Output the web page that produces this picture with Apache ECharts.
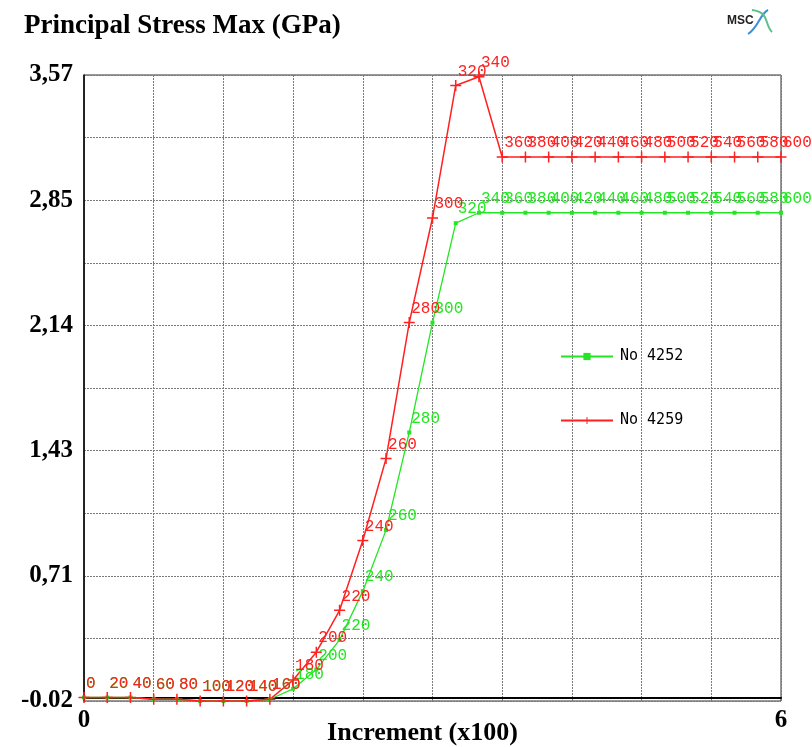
<!DOCTYPE html>
<html>
<head>
<meta charset="utf-8">
<script src="https://cdn.jsdelivr.net/npm/echarts@6/dist/echarts.min.js"></script>
<style>
  html, body { margin: 0; padding: 0; background: #fff; }
  #chart { width: 812px; height: 747px; }
</style>
</head>
<body>
<div id="chart"></div>
<script>
// increments (x100 on the axis)
const increments = [0, 20, 40, 60, 80, 100, 120, 140, 160, 180, 200, 220, 240, 260, 280, 300,
  320, 340, 360, 380, 400, 420, 440, 460, 480, 500, 520, 540, 560, 580, 600]

// No 4252 (green)
const no4252 = [0.0, 0.0, 0.0, -0.01, -0.01, -0.02, -0.02, -0.02, -0.01, 0.05, 0.16, 0.33, 0.61, 0.96, 1.52, 2.15,
  2.72, 2.78, 2.78, 2.78, 2.78, 2.78, 2.78, 2.78, 2.78, 2.78, 2.78, 2.78, 2.78, 2.78, 2.78]

// No 4259 (red)
const no4259 = [0.0, 0.0, 0.0, -0.01, -0.01, -0.02, -0.02, -0.02, -0.01, 0.10, 0.26, 0.50, 0.90, 1.37, 2.15, 2.75,
  3.51, 3.56, 3.10, 3.10, 3.10, 3.10, 3.10, 3.10, 3.10, 3.10, 3.10, 3.10, 3.10, 3.10, 3.10]

const yTickLabels = ['-0.02', '0,71', '1,43', '2,14', '2,85', '3,57']
const xTickLabels = { 0: '0', 6: '6' }

const serif = 'Liberation Serif'
const mono = 'Liberation Mono'

const chart = echarts.init(document.getElementById('chart'))

const pointLabel = (color, dy) => ({
  show: true,
  position: 'top',
  distance: 0,
  align: 'left',
  verticalAlign: 'middle',
  offset: [2, dy],
  color: color,
  fontFamily: mono,
  fontSize: 16,
  formatter: p => String(increments[p.dataIndex])
})

const option = {
  animation: false,
  backgroundColor: '#fff',
  title: {
    text: 'Principal Stress Max (GPa)',
    left: 19,
    top: 8,
    textStyle: { fontFamily: serif, fontWeight: 'bold', fontSize: 27, color: '#000' }
  },
  legend: {
    orient: 'vertical',
    left: 555,
    top: 344,
    itemWidth: 52,
    itemHeight: 9,
    itemGap: 49,
    textStyle: { fontFamily: 'DejaVu Sans Mono', fontSize: 15, color: '#000', padding: [0, 0, 0, 2] },
    data: ['No 4252', 'No 4259']
  },
  grid: {
    left: 84,
    right: 31,
    top: 75,
    bottom: 46,
    outerBoundsMode: 'none',
    show: true,
    borderColor: '#333',
    borderWidth: 1,
    backgroundColor: '#fff'
  },
  xAxis: {
    type: 'value',
    min: 0,
    max: 6,
    interval: 0.6,
    name: 'Increment (x100)',
    nameLocation: 'middle',
    nameGap: 19,
    nameMoveOverlap: false,
    nameTextStyle: { fontFamily: serif, fontWeight: 'bold', fontSize: 26, color: '#000', padding: [0, 20, 0, 0] },
    axisLine: { lineStyle: { color: '#000', width: 2 } },
    axisTick: { show: false },
    axisLabel: {
      margin: 7,
      fontFamily: serif,
      fontWeight: 'bold',
      fontSize: 25,
      color: '#000',
      formatter: v => xTickLabels[Math.round(v * 10) / 10] || ''
    },
    splitLine: { lineStyle: { color: '#7a7a7a', type: [2, 1], width: 1 } }
  },
  yAxis: [
    {
      // data scale
      type: 'value',
      min: -0.02,
      max: 3.57,
      show: false,
      splitLine: { show: false }
    },
    {
      // display scale: 10 divisions between -0.02 and 3.57
      type: 'value',
      min: 0,
      max: 10,
      interval: 1,
      position: 'left',
      axisLine: { show: true, lineStyle: { color: '#000', width: 1.5 } },
      axisTick: { show: false },
      axisLabel: {
        margin: 11,
        fontFamily: serif,
        fontWeight: 'bold',
        fontSize: 25,
        color: '#000',
        formatter: v => (v % 2 === 0 ? yTickLabels[v / 2] : '')
      },
      splitLine: { lineStyle: { color: '#7a7a7a', type: [2, 1], width: 1 } }
    }
  ],
  series: [
    {
      name: 'No 4252',
      type: 'line',
      yAxisIndex: 0,
      clip: false,
      symbol: 'rect',
      symbolSize: 4,
      lineStyle: { color: '#22e622', width: 1.3 },
      itemStyle: { color: '#22e622' },
      label: pointLabel('#22e622', -12),
      data: increments.map((inc, i) => [inc / 100, no4252[i]])
    },
    {
      name: 'No 4259',
      type: 'line',
      yAxisIndex: 0,
      clip: false,
      symbol: 'path://M9.5,0H12.5V9.5H22V12.5H12.5V22H9.5V12.5H0V9.5H9.5Z',
      symbolSize: 11,
      lineStyle: { color: '#ff2020', width: 1.5 },
      itemStyle: { color: '#ff2020' },
      label: pointLabel('#ff2020', -8.5),
      data: increments.map((inc, i) => [inc / 100, no4259[i]])
    }
  ],
  graphic: [
    {
      type: 'text',
      left: 727,
      top: 15,
      style: { text: 'MSC', fontFamily: 'Liberation Sans', fontWeight: 'bold', fontSize: 12, fill: '#222' }
    },
    {
      type: 'bezierCurve',
      shape: { x1: 748, y1: 34, x2: 768, y2: 10, cpx1: 758, cpy1: 28, cpx2: 760, cpy2: 14 },
      style: { stroke: '#3b8fd6', lineWidth: 2, fill: 'none' }
    },
    {
      type: 'bezierCurve',
      shape: { x1: 752, y1: 10, x2: 772, y2: 32, cpx1: 770, cpy1: 12, cpx2: 764, cpy2: 24 },
      style: { stroke: '#5cc08a', lineWidth: 2, fill: 'none' }
    }
  ]
}

chart.setOption(option)
</script>
</body>
</html>
